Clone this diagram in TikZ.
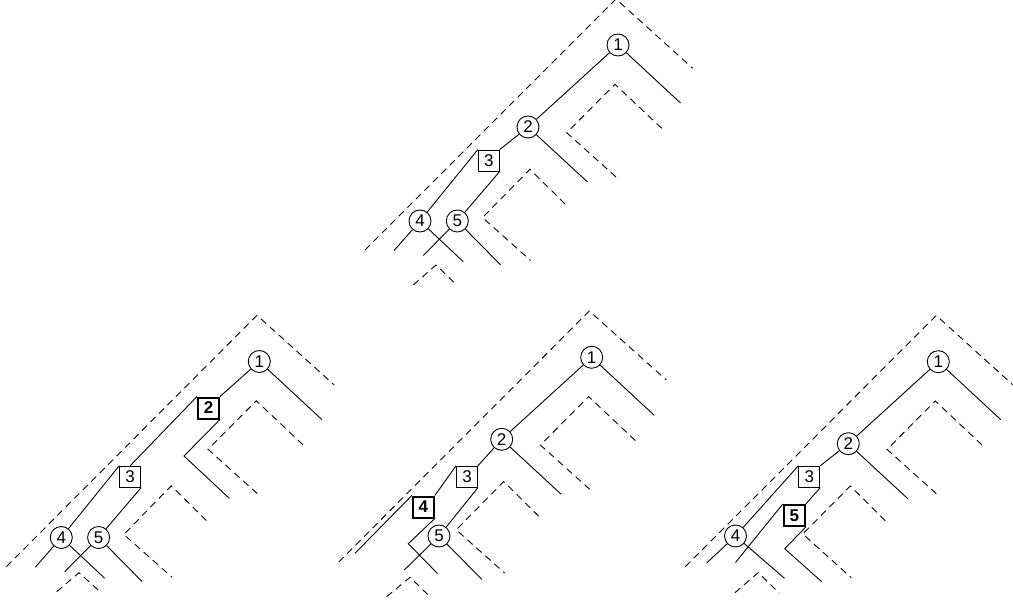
\documentclass[tikz,border=0pt]{standalone}
\usepackage{fontspec}
\setmainfont{Liberation Sans}
\begin{document}
\begin{tikzpicture}[x=1pt,y=-1pt,
  vtx/.style={draw,circle,line width=0.9pt,minimum size=22pt,inner sep=0pt,font=\fontsize{17}{17}\selectfont},
  blk/.style={draw,rectangle,line width=0.9pt,minimum size=21pt,inner sep=0pt,font=\fontsize{17}{17}\selectfont},
  hot/.style={blk,line width=2pt,font=\fontsize{17}{17}\selectfont\bfseries},
  conn/.style={line width=0.9pt},
  hull/.style={line width=0.9pt,dash pattern=on 7pt off 5pt}]

\useasboundingbox (0,0) rectangle (1013,604);

% Top tree: dashed subtree outlines.
\draw[hull] (365,250) -- (616,-1) -- (692.7,68.3);
\draw[hull] (661.7,128.3) -- (615,84.3) -- (566.7,132.7) -- (616,177);
\draw[hull] (565,204) -- (530,169.3) -- (482.5,217.5) -- (530.5,260.5);
\draw[hull] (413.3,285) -- (436,265) -- (456.7,285);

% Top tree: keys.
\node[vtx] (a1) at (618,45) {1};
\node[vtx] (a2) at (528,127) {2};
\node[blk] (a3) at (488.8,160.5) {3};
\node[vtx] (a4) at (420,221) {4};
\node[vtx] (a5) at (457.3,221) {5};
\coordinate (a1r) at (680.5,103);
\coordinate (a2r) at (587.5,182);
\coordinate (a4l) at (394,250.7);
\coordinate (a4r) at (463.3,261.7);
\coordinate (a5l) at (423.3,255.5);
\coordinate (a5r) at (500.7,265);
\draw[conn] (a1) -- (a2);
\draw[conn] (a1) -- (a1r);
\draw[conn] (a2) -- (a2r);
\draw[conn] (a2) -- (a3.north east);
\draw[conn] (a3.north west) -- (a4);
\draw[conn] (a3.south east) -- (a5);
\draw[conn] (a4) -- (a4l);
\draw[conn] (a4) -- (a4r);
\draw[conn] (a5) -- (a5l);
\draw[conn] (a5) -- (a5r);

% Left tree: 2 is the current key.
\draw[hull] (6.5,566.5) -- (257,315.3) -- (334,384.8);
\draw[hull] (303,444.8) -- (256.3,400.8) -- (208,449.2) -- (257.3,493.5);
\draw[hull] (206.3,520.5) -- (171.3,485.8) -- (123.8,534.5) -- (172,577.2);
\draw[hull] (56.7,591.7) -- (79,572.7) -- (100,591.7);

\node[vtx] (b1) at (259.3,361.5) {1};
\node[hot] (b2) at (208.5,408) {2};
\node[blk] (b3) at (130.2,476.7) {3};
\node[vtx] (b4) at (61.3,537.5) {4};
\node[vtx] (b5) at (98.6,537.5) {5};
\coordinate (b1r) at (321.8,419.5);
\coordinate (b2k) at (184,456);
\coordinate (b2r) at (229.3,498.3);
\coordinate (b4l) at (35.3,567.2);
\coordinate (b4r) at (104.6,578.2);
\coordinate (b5l) at (64.6,571.8);
\coordinate (b5r) at (142,581.5);
\draw[conn] (b1) -- (b2.north east);
\draw[conn] (b1) -- (b1r);
\draw[conn] (b2.north west) -- (b3.north);
\draw[conn] (b2.south east) -- (b2k) -- (b2r);
\draw[conn] (b3.north west) -- (b4);
\draw[conn] (b3.south east) -- (b5);
\draw[conn] (b4) -- (b4l);
\draw[conn] (b4) -- (b4r);
\draw[conn] (b5) -- (b5l);
\draw[conn] (b5) -- (b5r);

% Middle tree: 4 is the current key.
\draw[hull] (338.7,562) -- (589.3,311) -- (666.3,380);
\draw[hull] (635.4,440.6) -- (588.7,396.6) -- (540.4,445) -- (589.7,489.3);
\draw[hull] (538.7,516.3) -- (503.7,481.6) -- (456.2,529.8) -- (504.6,573);
\draw[hull] (386.7,596.7) -- (410,577.3) -- (430,596.7);

\node[vtx] (c1) at (591.7,357.3) {1};
\node[vtx] (c2) at (501.7,439.3) {2};
\node[blk] (c3) at (467,476.7) {3};
\node[hot] (c4) at (423.3,507) {4};
\node[vtx] (c5) at (439,536) {5};
\coordinate (c1r) at (654.2,415.3);
\coordinate (c2r) at (561.2,494.3);
\coordinate (c4l) at (355,553.3);
\coordinate (c4k) at (408.3,543.7);
\coordinate (c4r) at (437.3,573.3);
\coordinate (c5l) at (404.3,570);
\coordinate (c5r) at (481.7,579.3);
\draw[conn] (c1) -- (c2);
\draw[conn] (c1) -- (c1r);
\draw[conn] (c2) -- (c2r);
\draw[conn] (c2) -- (c3.north east);
\draw[conn] (c3.north west) -- (c4.north east);
\draw[conn] (c4.north west) -- (c4l);
\draw[conn] (c4.south east) -- (c4k) -- (c4r);
\draw[conn] (c3.south east) -- (c5);
\draw[conn] (c5) -- (c5l);
\draw[conn] (c5) -- (c5r);

% Right tree: 5 is the current key.
\draw[hull] (685.3,566.7) -- (936.3,315.5) -- (1013,385);
\draw[hull] (982,445) -- (935.3,401) -- (887,449.4) -- (936.3,493.7);
\draw[hull] (885.3,520.7) -- (850.3,486) -- (802.8,534) -- (851.2,577.7);
\draw[hull] (735,592.7) -- (758.3,572.5) -- (779.3,593.3);

\node[vtx] (d1) at (938.3,361.7) {1};
\node[vtx] (d2) at (848.3,443.7) {2};
\node[blk] (d3) at (809.3,476.7) {3};
\node[vtx] (d4) at (735.5,536) {4};
\node[hot] (d5) at (794.3,515.5) {5};
\coordinate (d1r) at (1000.8,419.7);
\coordinate (d2r) at (907.8,498.7);
\coordinate (d4l) at (706.7,563);
\coordinate (d4r) at (784.5,578.3);
\coordinate (d5l) at (735.5,562.5);
\coordinate (d5k) at (784.7,548.7);
\coordinate (d5r) at (821.7,581.7);
\draw[conn] (d1) -- (d2);
\draw[conn] (d1) -- (d1r);
\draw[conn] (d2) -- (d2r);
\draw[conn] (d2) -- (d3.north east);
\draw[conn] (d3.north west) -- (d4);
\draw[conn] (d3.south east) -- (d5.north east);
\draw[conn] (d5.north west) -- (d5l);
\draw[conn] (d5.south east) -- (d5k) -- (d5r);
\draw[conn] (d4) -- (d4l);
\draw[conn] (d4) -- (d4r);
\end{tikzpicture}
\end{document}
